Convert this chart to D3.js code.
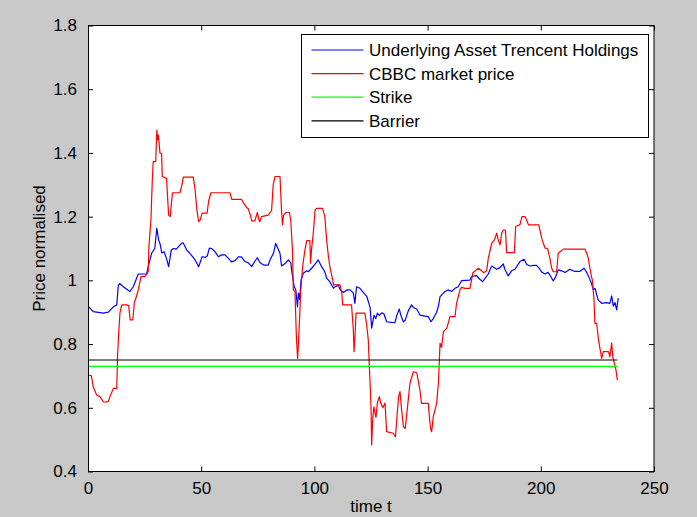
<!DOCTYPE html>
<html>
<head>
<meta charset="utf-8">
<script src="https://cdn.jsdelivr.net/npm/d3@7"></script>
<style>
  html, body { margin: 0; padding: 0; background: #c8c8c8; }
  svg { display: block; }
  text { font-family: "Liberation Sans", Arial, sans-serif; fill: #000; }
</style>
</head>
<body>
<script>
// Underlying asset (Trencent Holdings), normalised price vs. time t
const underlyingT = [0,2.3,6.8,9,11.2,12.7,13.4,14,15.6,16.5,18.5,20,22.2,25.9,26.6,28.1,29.5,30.4,31.2,31.8,32.6,33.6,34.8,35.6,36.8,37.8,39,41.3,42,43.6,45,47.3,48.9,50.4,51.8,52.7,53.6,54.6,56.1,57.6,59,60.5,62,63.4,64.9,66.4,67.8,69.3,70.8,72.3,73.7,74.8,76,77.6,79.6,80.4,81.9,82.9,83.6,84.8,85.5,86.9,88.5,89.6,90,91.1,91.8,92.5,93,93.5,94.1,95.1,96.6,97.3,98.8,100.2,101.7,103.2,104.6,105.4,106.9,108.4,109.2,110.6,111.3,112.8,114.3,115.8,117.2,117.9,118.6,120.1,121.6,123.1,124.6,125.3,126.3,127.1,127.8,128.7,129.7,130.7,131.9,134,135.6,136.4,137.5,138.2,139.3,140.1,141.5,142.9,143.7,145.2,146.6,148.8,150.3,151.5,152.5,154,154.8,155.5,157,157.7,159.1,160.6,162.1,163.5,165,168.7,169.4,171.6,172.8,174.3,176.8,178.3,180.5,182,183.4,184.1,185.6,187.1,188.6,190.8,192.6,193.8,195.2,196.7,198.1,199.6,200.3,201.8,203.2,204.4,205.5,206.5,207.7,209.2,210.7,212.9,215,217.2,219.1,220.3,221.4,222.4,223.2,224,224.7,225.4,226.9,229,230.5,231.3,232,232.8,233.5,234.2];
const underlying = [0.92,0.902,0.897,0.9,0.917,0.923,0.985,0.99,0.98,0.975,0.965,0.98,1.02,1.02,1.043,1.085,1.1,1.164,1.127,1.115,1.086,1.09,1.066,1.043,1.095,1.1,1.098,1.116,1.118,1.095,1.085,1.064,1.043,1.074,1.072,1.077,1.101,1.1,1.09,1.074,1.08,1.08,1.069,1.058,1.062,1.074,1.074,1.059,1.055,1.043,1.06,1.071,1.055,1.048,1.048,1.064,1.085,1.116,1.105,1.085,1.045,1.052,1.064,1.055,1.027,0.98,0.97,0.917,0.96,0.94,1.001,1.022,1.03,1.027,1.038,1.05,1.064,1.043,1.027,1.007,0.995,0.975,0.98,0.985,0.972,0.962,0.97,0.97,0.96,0.928,0.98,0.975,0.962,0.95,0.915,0.85,0.89,0.88,0.897,0.89,0.898,0.895,0.87,0.868,0.867,0.89,0.91,0.89,0.87,0.875,0.905,0.923,0.915,0.91,0.891,0.888,0.886,0.87,0.88,0.9,0.92,0.949,0.96,0.965,0.97,0.965,0.975,0.98,0.999,1.001,1.012,1.015,1.005,0.996,1.02,1.045,1.035,1.04,1.052,1.035,1.014,1.03,1.035,1.059,1.066,1.05,1.045,1.047,1.047,1.035,1.027,1.02,1.025,1.012,0.998,1.01,1.033,1.03,1.025,1.035,1.028,1.028,1.038,1.025,1.007,0.99,0.97,0.975,0.954,0.938,0.928,0.93,0.928,0.951,0.92,0.93,0.907,0.944];

// CBBC market price, normalised
const cbbcT = [0,1.5,2.3,3.8,5.3,6.8,8.2,9,9.7,11.2,12.7,13.1,13.6,14.1,14.9,17.1,18,18.6,19.8,20.5,21,22.2,23.4,25.2,26.6,26.9,27.8,28.4,28.8,29.9,30.4,30.8,31.1,31.8,32.5,32.8,34.7,35.6,36.3,37.3,40.6,41.5,42.1,46.5,47.3,48.1,48.9,49.6,50.4,52.6,53.3,54.3,62.7,63.5,67.8,68.5,70,70.8,71.5,72.3,73.7,74.8,75.5,75.9,76.6,79.6,81.1,81.8,82.6,84.8,85.5,85.9,86.4,87.5,89,89.6,90.3,90.7,91.4,92.1,92.6,93,93.6,94,94.8,95.8,96.6,98,98.3,98.7,99.5,100.3,101,103.6,104.6,105.4,106.2,106.9,108.1,108.4,111.3,112.1,112.5,116.4,117.2,117.5,117.9,118.4,122.3,123.1,123.8,124.2,124.6,125,125.3,125.8,126.3,127.2,127.8,128.7,129.3,130.2,131.2,131.9,134.8,135.8,136.5,137.2,137.8,138.5,139.3,140.1,140.8,142.2,143.7,145.2,146.6,147.3,150.3,150.7,151.3,151.8,152.5,154,154.8,155.5,156.2,157,158.5,159.9,162.1,162.8,164.3,165,166.5,168.7,169.4,170,172.4,173.9,174.7,176.1,176.8,178.3,179.5,180.5,181.2,182,182.7,183.4,184.4,184.9,188.3,188.9,190.8,191.7,193.1,194.6,199.1,199.9,200.6,201.9,203,204,204.8,205.5,207,207.7,208.5,210,219.5,220.3,221,221.7,222.4,222.8,223.5,223.9,224.7,225.4,226.1,226.9,227.6,229.9,230.5,231.3,231.8,232.3,233.2,233.8];
const cbbc = [0.703,0.7,0.666,0.64,0.635,0.619,0.618,0.62,0.635,0.661,0.661,0.771,0.839,0.897,0.923,0.923,0.92,0.876,0.876,0.933,0.94,0.97,1.012,1.012,1.027,1.106,1.19,1.315,1.373,1.373,1.472,1.441,1.456,1.399,1.399,1.326,1.32,1.205,1.2,1.275,1.275,1.3,1.324,1.324,1.284,1.221,1.184,1.19,1.211,1.211,1.25,1.275,1.275,1.254,1.254,1.245,1.229,1.225,1.21,1.187,1.187,1.213,1.19,1.184,1.2,1.205,1.22,1.3,1.326,1.326,1.216,1.174,1.205,1.213,1.213,1.184,1.095,0.97,0.965,0.813,0.755,0.81,0.907,0.97,1.043,1.095,1.125,1.125,1.054,1.095,1.148,1.221,1.226,1.226,1.2,1.127,1.074,1.04,1.001,0.986,0.986,0.96,0.923,0.923,0.844,0.776,0.82,0.897,0.897,0.86,0.813,0.74,0.677,0.603,0.483,0.57,0.603,0.57,0.615,0.635,0.615,0.6,0.615,0.525,0.52,0.509,0.575,0.635,0.651,0.595,0.541,0.535,0.58,0.677,0.713,0.71,0.656,0.614,0.614,0.58,0.535,0.525,0.572,0.614,0.68,0.803,0.79,0.839,0.85,0.886,0.886,0.928,0.97,0.978,0.975,0.975,1.001,1.024,1.038,1.03,1.024,1.03,1.069,1.116,1.127,1.148,1.127,1.111,1.148,1.158,1.158,1.087,1.087,1.169,1.175,1.2,1.2,1.174,1.174,1.148,1.127,1.101,1.1,1.069,1.038,1.027,1.027,1.085,1.09,1.098,1.098,1.085,1.069,1.038,1.01,1.001,0.938,0.865,0.865,0.818,0.787,0.755,0.776,0.776,0.76,0.803,0.76,0.745,0.719,0.687];

// Constant levels
const strikeLevel = 0.73;
const barrierLevel = 0.75;
const levelSpan = [0, 233.8];

// Axes
const xTicks = [0, 50, 100, 150, 200, 250];
const yTicks = [0.4, 0.6, 0.8, 1, 1.2, 1.4, 1.6, 1.8];
const legendLabels = ["Underlying Asset Trencent Holdings", "CBBC market price", "Strike", "Barrier"];
const seriesColors = ["#0000ff", "#ff0000", "#00ff00", "#000000"];

const W = 697, H = 517;
const plot = { left: 88, right: 654, top: 25.5, bottom: 471.5 };

const svg = d3.select("body").append("svg").attr("width", W).attr("height", H);
svg.append("rect").attr("width", W).attr("height", H).attr("fill", "#c8c8c8");

const x = d3.scaleLinear().domain([0, 250]).range([plot.left, plot.right]);
const y = d3.scaleLinear().domain([0.4, 1.8]).range([plot.bottom, plot.top]);

svg.append("rect")
  .attr("x", plot.left).attr("y", plot.top)
  .attr("width", plot.right - plot.left).attr("height", plot.bottom - plot.top)
  .attr("fill", "#fff");

svg.append("clipPath").attr("id", "plotclip")
  .append("rect").attr("x", plot.left).attr("y", plot.top)
  .attr("width", plot.right - plot.left).attr("height", plot.bottom - plot.top);

const g = svg.append("g").attr("clip-path", "url(#plotclip)");
const line = d3.line().x(d => x(d[0])).y(d => y(d[1]));

const series = [
  { t: underlyingT, v: underlying, color: seriesColors[0] },
  { t: cbbcT, v: cbbc, color: seriesColors[1] },
  { t: levelSpan, v: [strikeLevel, strikeLevel], color: seriesColors[2] },
  { t: levelSpan, v: [barrierLevel, barrierLevel], color: seriesColors[3] }
];
// draw in plot order: underlying, CBBC, strike, barrier
series.forEach(s => {
  g.append("path")
    .datum(s.t.map((t, i) => [t, s.v[i]]))
    .attr("d", line)
    .attr("fill", "none")
    .attr("stroke", s.color)
    .attr("stroke-width", 1.2)
    .attr("stroke-linejoin", "round");
});

// Axes with inward ticks on all four sides
const tickLen = 5;
const fontSize = 17;
const axisStyle = sel => {
  sel.select(".domain").remove();
  sel.selectAll("line").attr("stroke", "#000");
};
svg.append("g").attr("transform", `translate(0,${plot.bottom})`)
  .call(d3.axisBottom(x).tickValues(xTicks).tickSizeInner(-tickLen).tickSizeOuter(0).tickPadding(10).tickFormat(d3.format("d")))
  .call(axisStyle)
  .call(a => a.selectAll("text").attr("font-size", fontSize).attr("fill", "#000").attr("font-family", "Liberation Sans, Arial, sans-serif"));
svg.append("g").attr("transform", `translate(0,${plot.top})`)
  .call(d3.axisTop(x).tickValues(xTicks).tickSizeInner(-tickLen).tickSizeOuter(0).tickFormat(""))
  .call(axisStyle);
svg.append("g").attr("transform", `translate(${plot.left},0)`)
  .call(d3.axisLeft(y).tickValues(yTicks).tickSizeInner(-tickLen).tickSizeOuter(0).tickPadding(11).tickFormat(d3.format("")))
  .call(axisStyle)
  .call(a => a.selectAll("text").attr("font-size", fontSize).attr("fill", "#000").attr("font-family", "Liberation Sans, Arial, sans-serif"));
svg.append("g").attr("transform", `translate(${plot.right},0)`)
  .call(d3.axisRight(y).tickValues(yTicks).tickSizeInner(-tickLen).tickSizeOuter(0).tickFormat(""))
  .call(axisStyle);

svg.append("rect")
  .attr("x", plot.left + 0.5).attr("y", plot.top)
  .attr("width", plot.right - plot.left - 0.5).attr("height", plot.bottom - plot.top)
  .attr("fill", "none").attr("stroke", "#000").attr("stroke-width", 1);

// Axis titles
svg.append("text")
  .attr("x", (plot.left + plot.right) / 2).attr("y", 512)
  .attr("text-anchor", "middle").attr("font-size", fontSize)
  .text("time t");
svg.append("text")
  .attr("transform", `translate(45,${(plot.top + plot.bottom) / 2}) rotate(-90)`)
  .attr("text-anchor", "middle").attr("font-size", fontSize)
  .text("Price normalised");

// Legend
const legend = svg.append("g");
legend.append("rect")
  .attr("x", 301.5).attr("y", 34.5).attr("width", 347).attr("height", 103)
  .attr("fill", "#fff").attr("stroke", "#000");
legendLabels.forEach((label, i) => {
  const ly = 50 + i * 23.6;
  legend.append("line")
    .attr("x1", 311.5).attr("x2", 363.5).attr("y1", ly).attr("y2", ly)
    .attr("stroke", seriesColors[i]).attr("stroke-width", 1.2);
  legend.append("text")
    .attr("x", 369).attr("y", ly + 6)
    .attr("font-size", fontSize)
    .text(label);
});
</script>
</body>
</html>
